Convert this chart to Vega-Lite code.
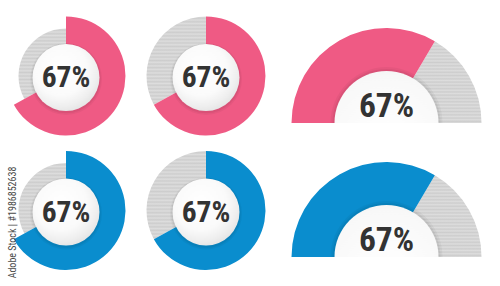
{
  "$schema": "https://vega.github.io/schema/vega-lite/v6.json",
  "width": 500,
  "height": 286,
  "autosize": {"type": "fit", "contains": "padding"},
  "padding": 0,
  "background": "white",
  "config": {"view": {"stroke": null}},
  "datasets": {
    "donuts": [
      {"col": "1", "row": "top", "part": "pink", "start": 0, "end": 67, "label": "67%"},
      {"col": "1", "row": "top", "part": "rest", "start": 67, "end": 100, "label": "67%"},
      {"col": "2", "row": "top", "part": "pink", "start": 0, "end": 67, "label": "67%"},
      {"col": "2", "row": "top", "part": "rest", "start": 67, "end": 100, "label": "67%"},
      {"col": "1", "row": "bottom", "part": "blue", "start": 0, "end": 67, "label": "67%"},
      {"col": "1", "row": "bottom", "part": "rest", "start": 67, "end": 100, "label": "67%"},
      {"col": "2", "row": "bottom", "part": "blue", "start": 0, "end": 67, "label": "67%"},
      {"col": "2", "row": "bottom", "part": "rest", "start": 67, "end": 100, "label": "67%"}
    ],
    "gauges": [
      {"col": "3", "row": "top", "part": "pink", "start": 0, "end": 67, "label": "67%"},
      {"col": "3", "row": "top", "part": "rest", "start": 67, "end": 100, "label": "67%"},
      {"col": "3", "row": "bottom", "part": "blue", "start": 0, "end": 67, "label": "67%"},
      {"col": "3", "row": "bottom", "part": "rest", "start": 67, "end": 100, "label": "67%"}
    ],
    "credit": [
      {"col": "1", "row": "bottom", "text": "Adobe Stock | #1986852638"}
    ]
  },
  "layer": [
    {
      "data": {"name": "donuts"},
      "encoding": {
        "x": {"field": "col", "type": "nominal", "axis": null,
              "scale": {"type": "point", "domain": ["1", "2"], "range": [66, 206], "padding": 0}},
        "y": {"field": "row", "type": "nominal", "axis": null,
              "scale": {"type": "point", "domain": ["top", "bottom"], "range": [76, 210.5], "padding": 0}}
      },
      "layer": [
        {
          "transform": [{"filter": "datum.part == 'rest' && datum.col == '1'"}],
          "mark": {"type": "arc", "outerRadius": 47.5, "innerRadius": 28,
                   "fill": {"gradient": "linear", "x1": 0, "y1": 0, "x2": 0, "y2": 1, "stops": [
                     {"offset": 0, "color": "#dddddd"}, {"offset": 0.025, "color": "#cdcdcd"}, {"offset": 0.05, "color": "#dddddd"}, {"offset": 0.075, "color": "#cdcdcd"},
                     {"offset": 0.1, "color": "#dddddd"}, {"offset": 0.125, "color": "#cdcdcd"}, {"offset": 0.15, "color": "#dddddd"}, {"offset": 0.175, "color": "#cdcdcd"},
                     {"offset": 0.2, "color": "#dddddd"}, {"offset": 0.225, "color": "#cdcdcd"}, {"offset": 0.25, "color": "#dddddd"}, {"offset": 0.275, "color": "#cdcdcd"},
                     {"offset": 0.3, "color": "#dddddd"}, {"offset": 0.325, "color": "#cdcdcd"}, {"offset": 0.35, "color": "#dddddd"}, {"offset": 0.375, "color": "#cdcdcd"},
                     {"offset": 0.4, "color": "#dddddd"}, {"offset": 0.425, "color": "#cdcdcd"}, {"offset": 0.45, "color": "#dddddd"}, {"offset": 0.475, "color": "#cdcdcd"},
                     {"offset": 0.5, "color": "#dddddd"}, {"offset": 0.525, "color": "#cdcdcd"}, {"offset": 0.55, "color": "#dddddd"}, {"offset": 0.575, "color": "#cdcdcd"},
                     {"offset": 0.6, "color": "#dddddd"}, {"offset": 0.625, "color": "#cdcdcd"}, {"offset": 0.65, "color": "#dddddd"}, {"offset": 0.675, "color": "#cdcdcd"},
                     {"offset": 0.7, "color": "#dddddd"}, {"offset": 0.725, "color": "#cdcdcd"}, {"offset": 0.75, "color": "#dddddd"}, {"offset": 0.775, "color": "#cdcdcd"},
                     {"offset": 0.8, "color": "#dddddd"}, {"offset": 0.825, "color": "#cdcdcd"}, {"offset": 0.85, "color": "#dddddd"}, {"offset": 0.875, "color": "#cdcdcd"},
                     {"offset": 0.9, "color": "#dddddd"}, {"offset": 0.925, "color": "#cdcdcd"}, {"offset": 0.95, "color": "#dddddd"}, {"offset": 0.975, "color": "#cdcdcd"},
                     {"offset": 1, "color": "#dddddd"}]}},
          "encoding": {
            "theta": {"field": "start", "type": "quantitative", "stack": null,
                      "scale": {"domain": [0, 100], "range": [0, 6.2832]}},
            "theta2": {"field": "end"}
          }
        },
        {
          "transform": [{"filter": "datum.part == 'rest' && datum.col == '2'"}],
          "mark": {"type": "arc", "outerRadius": 59.5, "innerRadius": 28,
                   "fill": {"gradient": "linear", "x1": 0, "y1": 0, "x2": 0, "y2": 1, "stops": [
                     {"offset": 0, "color": "#dddddd"}, {"offset": 0.02, "color": "#cdcdcd"}, {"offset": 0.04, "color": "#dddddd"}, {"offset": 0.06, "color": "#cdcdcd"},
                     {"offset": 0.08, "color": "#dddddd"}, {"offset": 0.1, "color": "#cdcdcd"}, {"offset": 0.12, "color": "#dddddd"}, {"offset": 0.14, "color": "#cdcdcd"},
                     {"offset": 0.16, "color": "#dddddd"}, {"offset": 0.18, "color": "#cdcdcd"}, {"offset": 0.2, "color": "#dddddd"}, {"offset": 0.22, "color": "#cdcdcd"},
                     {"offset": 0.24, "color": "#dddddd"}, {"offset": 0.26, "color": "#cdcdcd"}, {"offset": 0.28, "color": "#dddddd"}, {"offset": 0.3, "color": "#cdcdcd"},
                     {"offset": 0.32, "color": "#dddddd"}, {"offset": 0.34, "color": "#cdcdcd"}, {"offset": 0.36, "color": "#dddddd"}, {"offset": 0.38, "color": "#cdcdcd"},
                     {"offset": 0.4, "color": "#dddddd"}, {"offset": 0.42, "color": "#cdcdcd"}, {"offset": 0.44, "color": "#dddddd"}, {"offset": 0.46, "color": "#cdcdcd"},
                     {"offset": 0.48, "color": "#dddddd"}, {"offset": 0.5, "color": "#cdcdcd"}, {"offset": 0.52, "color": "#dddddd"}, {"offset": 0.54, "color": "#cdcdcd"},
                     {"offset": 0.56, "color": "#dddddd"}, {"offset": 0.58, "color": "#cdcdcd"}, {"offset": 0.6, "color": "#dddddd"}, {"offset": 0.62, "color": "#cdcdcd"},
                     {"offset": 0.64, "color": "#dddddd"}, {"offset": 0.66, "color": "#cdcdcd"}, {"offset": 0.68, "color": "#dddddd"}, {"offset": 0.7, "color": "#cdcdcd"},
                     {"offset": 0.72, "color": "#dddddd"}, {"offset": 0.74, "color": "#cdcdcd"}, {"offset": 0.76, "color": "#dddddd"}, {"offset": 0.78, "color": "#cdcdcd"},
                     {"offset": 0.8, "color": "#dddddd"}, {"offset": 0.82, "color": "#cdcdcd"}, {"offset": 0.84, "color": "#dddddd"}, {"offset": 0.86, "color": "#cdcdcd"},
                     {"offset": 0.88, "color": "#dddddd"}, {"offset": 0.9, "color": "#cdcdcd"}, {"offset": 0.92, "color": "#dddddd"}, {"offset": 0.94, "color": "#cdcdcd"},
                     {"offset": 0.96, "color": "#dddddd"}, {"offset": 0.98, "color": "#cdcdcd"}, {"offset": 1, "color": "#dddddd"}]}},
          "encoding": {
            "theta": {"field": "start", "type": "quantitative", "stack": null,
                      "scale": {"domain": [0, 100], "range": [0, 6.2832]}},
            "theta2": {"field": "end"}
          }
        },
        {
          "transform": [{"filter": "datum.part != 'rest'"}],
          "mark": {"type": "arc", "outerRadius": 59.5, "innerRadius": 28},
          "encoding": {
            "theta": {"field": "start", "type": "quantitative", "stack": null,
                      "scale": {"domain": [0, 100], "range": [0, 6.2832]}},
            "theta2": {"field": "end"},
            "color": {"field": "part", "type": "nominal", "legend": null,
                      "scale": {"domain": ["pink", "blue"], "range": ["#EF5A84", "#0A8DCE"]}}
          }
        },
        {
          "transform": [{"filter": "datum.part == 'rest'"}],
          "mark": {"type": "arc", "theta": 0, "theta2": 6.2832, "outerRadius": 36, "innerRadius": 0,
                   "fill": "#000000", "opacity": 0.04, "yOffset": 3}
        },
        {
          "transform": [{"filter": "datum.part == 'rest'"}],
          "mark": {"type": "arc", "theta": 0, "theta2": 6.2832, "outerRadius": 34.8, "innerRadius": 0,
                   "fill": "#000000", "opacity": 0.05, "yOffset": 2.5}
        },
        {
          "transform": [{"filter": "datum.part == 'rest'"}],
          "mark": {"type": "arc", "theta": 0, "theta2": 6.2832, "outerRadius": 33.5, "innerRadius": 0, "yOffset": 1.5,
                   "fill": {"gradient": "radial", "x1": 0.42, "y1": 0.38, "x2": 0.42, "y2": 0.38, "r1": 0, "r2": 0.65,
                            "stops": [{"offset": 0, "color": "#ffffff"}, {"offset": 0.6, "color": "#fafafa"}, {"offset": 0.85, "color": "#eeeeee"}, {"offset": 1, "color": "#e4e4e4"}]}}
        },
        {
          "transform": [{"filter": "datum.part == 'rest'"}],
          "mark": {"type": "text", "font": "Roboto Condensed", "fontWeight": "bold",
                   "fontSize": 29.5, "fill": "#333333", "align": "center", "baseline": "alphabetic", "dy": 11},
          "encoding": {"text": {"field": "label"}}
        }
      ]
    },
    {
      "data": {"name": "gauges"},
      "encoding": {
        "x": {"field": "col", "type": "nominal", "axis": null,
              "scale": {"type": "point", "domain": ["3"], "range": [386.5, 386.5], "padding": 0}},
        "y": {"field": "row", "type": "nominal", "axis": null,
              "scale": {"type": "point", "domain": ["top", "bottom"], "range": [123, 257], "padding": 0}}
      },
      "layer": [
        {
          "transform": [{"filter": "datum.part == 'rest'"}],
          "mark": {"type": "arc", "outerRadius": 95, "innerRadius": 46,
                   "fill": {"gradient": "linear", "x1": 0, "y1": 0, "x2": 0, "y2": 1, "stops": [
                     {"offset": 0, "color": "#dddddd"}, {"offset": 0.02, "color": "#cdcdcd"}, {"offset": 0.04, "color": "#dddddd"}, {"offset": 0.06, "color": "#cdcdcd"},
                     {"offset": 0.08, "color": "#dddddd"}, {"offset": 0.1, "color": "#cdcdcd"}, {"offset": 0.12, "color": "#dddddd"}, {"offset": 0.14, "color": "#cdcdcd"},
                     {"offset": 0.16, "color": "#dddddd"}, {"offset": 0.18, "color": "#cdcdcd"}, {"offset": 0.2, "color": "#dddddd"}, {"offset": 0.22, "color": "#cdcdcd"},
                     {"offset": 0.24, "color": "#dddddd"}, {"offset": 0.26, "color": "#cdcdcd"}, {"offset": 0.28, "color": "#dddddd"}, {"offset": 0.3, "color": "#cdcdcd"},
                     {"offset": 0.32, "color": "#dddddd"}, {"offset": 0.34, "color": "#cdcdcd"}, {"offset": 0.36, "color": "#dddddd"}, {"offset": 0.38, "color": "#cdcdcd"},
                     {"offset": 0.4, "color": "#dddddd"}, {"offset": 0.42, "color": "#cdcdcd"}, {"offset": 0.44, "color": "#dddddd"}, {"offset": 0.46, "color": "#cdcdcd"},
                     {"offset": 0.48, "color": "#dddddd"}, {"offset": 0.5, "color": "#cdcdcd"}, {"offset": 0.52, "color": "#dddddd"}, {"offset": 0.54, "color": "#cdcdcd"},
                     {"offset": 0.56, "color": "#dddddd"}, {"offset": 0.58, "color": "#cdcdcd"}, {"offset": 0.6, "color": "#dddddd"}, {"offset": 0.62, "color": "#cdcdcd"},
                     {"offset": 0.64, "color": "#dddddd"}, {"offset": 0.66, "color": "#cdcdcd"}, {"offset": 0.68, "color": "#dddddd"}, {"offset": 0.7, "color": "#cdcdcd"},
                     {"offset": 0.72, "color": "#dddddd"}, {"offset": 0.74, "color": "#cdcdcd"}, {"offset": 0.76, "color": "#dddddd"}, {"offset": 0.78, "color": "#cdcdcd"},
                     {"offset": 0.8, "color": "#dddddd"}, {"offset": 0.82, "color": "#cdcdcd"}, {"offset": 0.84, "color": "#dddddd"}, {"offset": 0.86, "color": "#cdcdcd"},
                     {"offset": 0.88, "color": "#dddddd"}, {"offset": 0.9, "color": "#cdcdcd"}, {"offset": 0.92, "color": "#dddddd"}, {"offset": 0.94, "color": "#cdcdcd"},
                     {"offset": 0.96, "color": "#dddddd"}, {"offset": 0.98, "color": "#cdcdcd"}, {"offset": 1, "color": "#dddddd"}]}},
          "encoding": {
            "theta": {"field": "start", "type": "quantitative", "stack": null,
                      "scale": {"domain": [0, 100], "range": [-1.5708, 1.5708]}},
            "theta2": {"field": "end"}
          }
        },
        {
          "transform": [{"filter": "datum.part != 'rest'"}],
          "mark": {"type": "arc", "outerRadius": 95, "innerRadius": 46},
          "encoding": {
            "theta": {"field": "start", "type": "quantitative", "stack": null,
                      "scale": {"domain": [0, 100], "range": [-1.5708, 1.5708]}},
            "theta2": {"field": "end"},
            "color": {"field": "part", "type": "nominal", "legend": null,
                      "scale": {"domain": ["pink", "blue"], "range": ["#EF5A84", "#0A8DCE"]}}
          }
        },
        {
          "transform": [{"filter": "datum.part == 'rest'"}],
          "mark": {"type": "arc", "theta": -1.5708, "theta2": 1.5708, "outerRadius": 56, "innerRadius": 0,
                   "fill": "#000000", "opacity": 0.04}
        },
        {
          "transform": [{"filter": "datum.part == 'rest'"}],
          "mark": {"type": "arc", "theta": -1.5708, "theta2": 1.5708, "outerRadius": 54, "innerRadius": 0,
                   "fill": "#000000", "opacity": 0.05}
        },
        {
          "transform": [{"filter": "datum.part == 'rest'"}],
          "mark": {"type": "arc", "theta": -1.5708, "theta2": 1.5708, "outerRadius": 52, "innerRadius": 0,
                   "fill": {"gradient": "radial", "x1": 0.5, "y1": 0.9, "x2": 0.5, "y2": 0.9, "r1": 0, "r2": 1,
                            "stops": [{"offset": 0, "color": "#ffffff"}, {"offset": 0.6, "color": "#f8f8f8"}, {"offset": 1, "color": "#e6e6e6"}]}}
        },
        {
          "transform": [{"filter": "datum.part == 'rest'"}],
          "mark": {"type": "text", "font": "Roboto Condensed", "fontWeight": "bold",
                   "fontSize": 33.5, "fill": "#333333", "align": "center", "baseline": "alphabetic", "dy": -6},
          "encoding": {"text": {"field": "label"}}
        }
      ]
    },
    {
      "data": {"name": "credit"},
      "mark": {"type": "text", "angle": 270, "fontSize": 10, "font": "Roboto Condensed",
               "fill": "#4a4a4a", "align": "center", "baseline": "middle", "xOffset": -53, "yOffset": 12},
      "encoding": {
        "x": {"field": "col", "type": "nominal", "axis": null,
              "scale": {"type": "point", "domain": ["1", "2"], "range": [66, 206], "padding": 0}},
        "y": {"field": "row", "type": "nominal", "axis": null,
              "scale": {"type": "point", "domain": ["top", "bottom"], "range": [76, 210.5], "padding": 0}},
        "text": {"field": "text"}
      }
    }
  ],
  "resolve": {"scale": {"x": "independent", "y": "independent", "theta": "independent", "color": "shared"}}
}
